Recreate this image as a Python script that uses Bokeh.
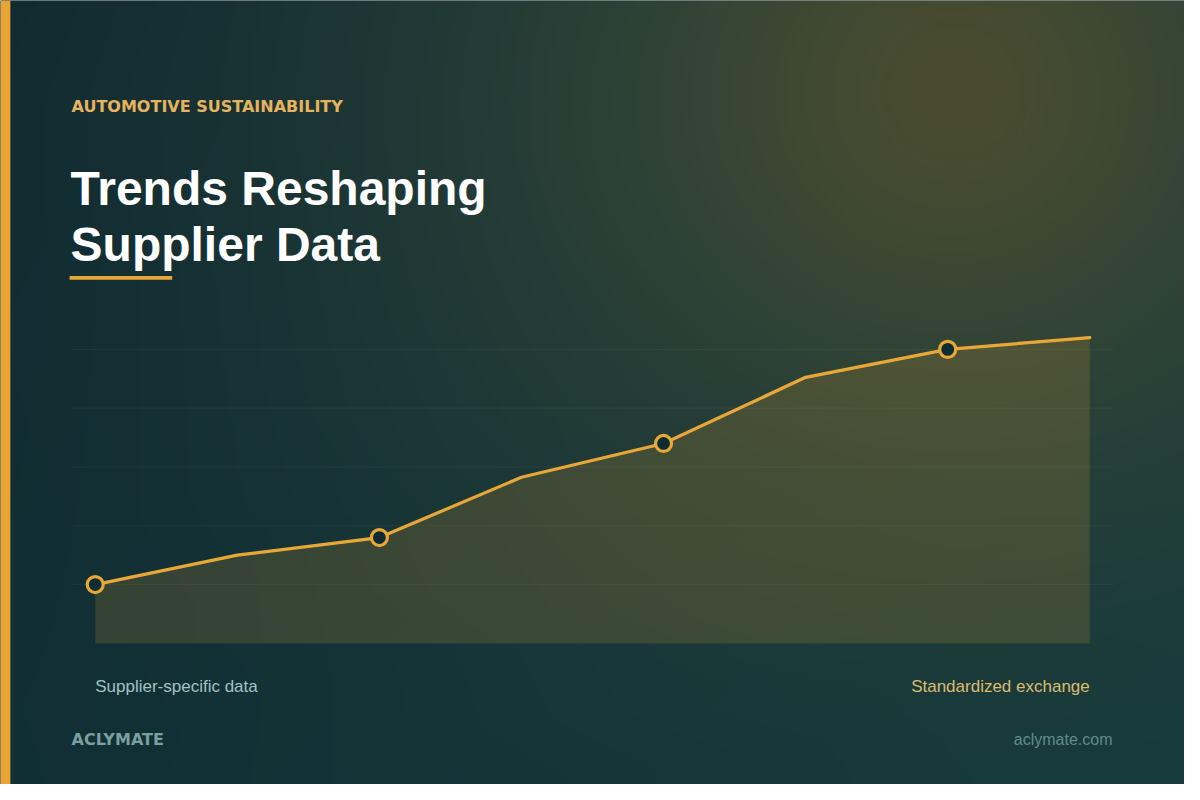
import numpy as np
from bokeh.plotting import figure
from bokeh.models import Range1d, Label, ColumnDataSource
from bokeh.embed import file_html
from bokeh.resources import INLINE

# ---------------- data ----------------
stages = [0, 1, 2, 3, 4, 5, 6, 7]
adoption = [20, 30, 36, 56.5, 68, 90.5, 100, 104]
marker_stages = [0, 2, 4, 6]
grid_values = [20, 40, 60, 80, 100]
start_label = "Supplier-specific data"
end_label = "Standardized exchange"
eyebrow = "AUTOMOTIVE SUSTAINABILITY"
title_lines = ["Trends Reshaping", "Supplier Data"]
brand = "ACLYMATE"
site = "aclymate.com"

# ---------------- layout helpers (reference pixel -> data) ----------------
X0, XS = 96.0, 144.0
Y0, YS = 656.0, 3.0


def dx(px):
    return (px - X0) / XS


def dy(py):
    return (Y0 - py) / YS


W_PX, H_PX = 1184, 784
p = figure(width=W_PX, height=H_PX, output_backend="svg", toolbar_location=None,
           x_range=Range1d(dx(0), dx(1200)), y_range=Range1d(dy(800), dy(0)),
           min_border=0, outline_line_color=None)
p.axis.visible = False
p.grid.visible = False
p.background_fill_color = "#0f2a31"
p.border_fill_color = "#0f2a31"

# ---------------- background gradient ----------------
GW, GH = 300, 200
gx = np.linspace(0, 1200, GW)[None, :]
gy = np.linspace(800, 0, GH)[:, None]
base_l = np.array([15, 41, 49], dtype=float)
base_r = np.array([19, 58, 61], dtype=float)
t = np.clip((gx / 1200.0) * 0.65 + (gy / 800.0) * 0.35, 0, 1)[..., None]
base = base_l * (1 - t) + base_r * t
haze_c = np.array([52, 70, 55], dtype=float)
r1 = ((gx - 950) / 600.0) ** 2 + ((gy - 100) / 500.0) ** 2
w1 = np.exp(-r1)[..., None]
col = base * (1 - w1) + haze_c * w1
glow_c = np.array([80, 78, 46], dtype=float)
d2 = ((gx - 970) ** 2 + (gy - 90) ** 2) / 220.0 ** 2
w2 = (0.75 * np.exp(-d2))[..., None]
col = col * (1 - w2) + glow_c * w2
img = np.empty((GH, GW), dtype=np.uint32)
view = img.view(dtype=np.uint8).reshape((GH, GW, 4))
view[..., 0] = col[..., 0].astype(np.uint8)
view[..., 1] = col[..., 1].astype(np.uint8)
view[..., 2] = col[..., 2].astype(np.uint8)
view[..., 3] = 255
p.image_rgba(image=[img], x=dx(0), y=dy(800), dw=dx(1200) - dx(0), dh=dy(0) - dy(800))

# left accent bar
p.quad(left=dx(0), right=dx(10), bottom=dy(800), top=dy(0),
       fill_color="#e8a534", line_color=None)

# ---------------- chart ----------------
gx0 = [dx(72)] * len(grid_values)
gx1 = [dx(1128)] * len(grid_values)
p.segment(x0=gx0, x1=gx1, y0=grid_values, y1=grid_values,
          line_color="#ffffff", line_alpha=0.05, line_width=1)

src = ColumnDataSource(dict(x=stages, y=adoption, base=[0] * len(stages)))
p.varea(x="x", y1="base", y2="y", source=src, fill_color="#e8a838", fill_alpha=0.17)
p.line(x="x", y="y", source=src, line_color="#e8a838", line_width=3.2,
       line_join="round", line_cap="round")

mk = ColumnDataSource(dict(x=marker_stages, y=[adoption[i] for i in marker_stages]))
p.scatter(x="x", y="y", source=mk, size=16, marker="circle",
          fill_color="#0f2c33", line_color="#e8a838", line_width=3.2)

# ---------------- texts ----------------
FONT = "Liberation Sans"
WIDE = "DejaVu Sans"
p.add_layout(Label(x=dx(72), y=dy(108), text=eyebrow, text_font=WIDE,
                   text_font_size="16px", text_font_style="bold",
                   text_color="#e6b45e", text_baseline="alphabetic"))
p.add_layout(Label(x=dx(71), y=dy(192), text=title_lines[0], text_font=FONT,
                   text_font_size="48px", text_font_style="bold",
                   text_color="#ffffff", text_baseline="alphabetic"))
p.add_layout(Label(x=dx(71), y=dy(249), text=title_lines[1], text_font=FONT,
                   text_font_size="48px", text_font_style="bold",
                   text_color="#ffffff", text_baseline="alphabetic"))
p.quad(left=dx(70), right=dx(174), bottom=dy(285), top=dy(281),
       fill_color="#e8a838", line_color=None)

p.add_layout(Label(x=stages[0], y=dy(700), text=start_label, text_font=FONT,
                   text_font_size="17px", text_color="#a3c2c0",
                   text_baseline="alphabetic", text_align="left"))
p.add_layout(Label(x=stages[-1], y=dy(700), text=end_label, text_font=FONT,
                   text_font_size="17px", text_color="#dcbb70",
                   text_baseline="alphabetic", text_align="right"))

p.add_layout(Label(x=dx(72), y=dy(754), text=brand, text_font=WIDE,
                   text_font_size="16px", text_font_style="bold",
                   text_color="#7c9f9f", text_baseline="alphabetic"))
p.add_layout(Label(x=dx(1127), y=dy(754), text=site, text_font=FONT,
                   text_font_size="16px", text_color="#5f8c8c",
                   text_baseline="alphabetic", text_align="right"))

open("out.html", "w").write(file_html(p, INLINE))
